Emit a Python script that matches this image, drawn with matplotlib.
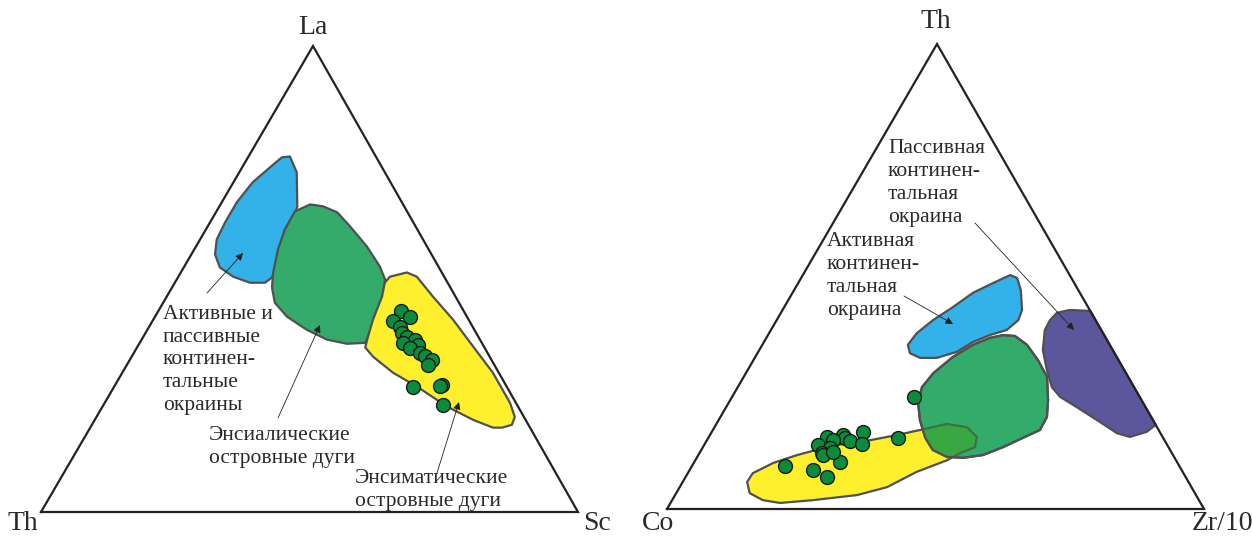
"""Two ternary discrimination diagrams: La-Th-Sc and Th-Co-Zr/10."""

import numpy as np
import matplotlib.pyplot as plt
from matplotlib.patches import Polygon

plt.rcParams['font.family'] = ['Liberation Serif', 'DejaVu Serif']

# ---- data: compositions in percent (top apex, right apex); left apex = rest ----
# left diagram: top = La, right = Sc, left = Th
la_blue = [(76.3, 7.7), (72.9, 10.7), (65.6, 14.5), (62.2, 15.4), (57.8, 16.2),
           (52.7, 17.3), (50.3, 17.5), (49.2, 16.8), (49.2, 14.0), (50.5, 10.2),
           (52.5, 6.7), (55.3, 4.4), (58.5, 3.1), (62.2, 2.8), (66.5, 2.8),
           (70.8, 3.6), (74.0, 5.2), (76.1, 6.3)]
la_green = [(66.0, 16.7), (65.6, 19.3), (64.3, 22.6), (61.3, 26.5), (57.0, 31.8),
            (52.7, 36.4), (49.9, 38.8), (45.6, 40.4), (41.3, 41.3), (36.3, 42.0),
            (36.1, 38.7), (37.0, 34.5), (39.1, 29.7), (41.9, 24.6), (44.9, 20.8),
            (48.2, 18.6), (51.4, 17.2), (56.3, 15.6), (60.6, 14.7), (64.5, 14.6)]
la_yellow = [(50.5, 39.4), (51.4, 42.1), (50.5, 44.4), (46.2, 49.6), (41.3, 55.8),
             (35.5, 62.5), (29.9, 69.0), (23.4, 75.5), (20.4, 77.9), (18.7, 78.2),
             (18.1, 76.7), (18.1, 75.0), (19.8, 70.4), (22.6, 64.2), (26.9, 56.4),
             (29.9, 50.4), (33.3, 45.0), (35.3, 42.5), (37.0, 42.0), (41.3, 40.9),
             (46.2, 40.1), (49.2, 39.1)]
la_samples = [(43.2, 45.2), (41.9, 47.5), (40.9, 44.8), (39.8, 46.7), (38.5, 47.7),
              (37.6, 49.1), (37.0, 50.9), (36.3, 49.0), (35.9, 52.0), (35.1, 50.9),
              (34.2, 53.3), (33.5, 54.5), (32.7, 56.3), (31.6, 56.1), (26.9, 55.6),
              (27.3, 60.8), (27.1, 60.6), (23.0, 63.2)]

# right diagram: top = Th, right = Zr/10, left = Co
th_blue = [(50.3, 38.6), (49.7, 40.2), (47.1, 42.2), (42.8, 44.6), (40.6, 45.0),
           (38.5, 43.9), (37.4, 41.3), (35.9, 38.9), (33.8, 37.0), (32.5, 33.9),
           (32.5, 30.8), (33.5, 28.4), (35.3, 27.1), (37.8, 27.5), (40.6, 29.1),
           (43.4, 31.4), (46.5, 33.6), (48.6, 36.3)]
th_green = [(37.4, 43.8), (37.2, 46.1), (35.3, 49.3), (32.0, 53.0), (28.4, 56.5),
            (23.4, 59.2), (19.8, 60.8), (17.0, 60.9), (15.3, 58.6), (13.3, 55.9),
            (11.6, 53.0), (11.0, 49.6), (11.2, 46.5), (12.7, 43.1), (15.3, 40.4),
            (19.1, 37.5), (22.8, 35.3), (26.2, 34.3), (29.2, 34.9), (32.7, 36.8),
            (35.3, 39.2), (36.8, 41.6)]
th_purple = [(42.2, 51.4), (42.8, 53.5), (42.6, 57.4), (18.1, 81.9), (16.6, 81.0),
             (15.5, 78.4), (16.3, 75.6), (19.1, 70.5), (21.9, 65.3), (24.1, 61.1),
             (26.2, 58.5), (29.9, 55.7), (34.2, 52.8), (38.5, 51.0), (40.6, 50.9)]
th_yellow = [(5.8, 12.0), (7.7, 12.1), (9.9, 14.8), (11.6, 18.4), (13.1, 22.5),
             (14.2, 26.4), (14.8, 30.4), (15.9, 34.8), (17.0, 38.6), (18.3, 42.9),
             (17.6, 47.0), (15.5, 49.9), (13.3, 50.7), (12.0, 48.5), (10.5, 46.9),
             (8.0, 42.5), (4.7, 38.6), (3.0, 33.9), (1.9, 26.2), (1.3, 20.4),
             (1.9, 16.9), (3.4, 13.7)]
th_samples = [(24.1, 33.9), (15.3, 35.3), (16.6, 28.2), (15.5, 22.0), (15.9, 24.8),
              (15.3, 25.5), (14.6, 26.7), (14.8, 23.5), (13.8, 21.2), (14.0, 29.3),
              (13.1, 23.8), (12.0, 22.8), (11.6, 23.2), (10.1, 27.1), (9.2, 17.4),
              (8.4, 23.0), (6.9, 26.3), (12.3, 24.7)]

# ---- layout (pixel canvas) ----
W, H = 1252, 536
left_tri = {'L': (41, 512), 'R': (578, 512), 'T': (313, 46)}
right_tri = {'L': (667, 509), 'R': (1204, 509), 'T': (937, 44)}

C_BLUE = '#33b1e9'
C_GREEN = '#33ab6b'
C_OVERLAP = '#3aa83e'
C_YELLOW = '#fff02e'
C_PURPLE = '#5c579d'
C_EDGE = '#505050'
C_DOT = '#0b8c3c'
C_TEXT = '#2a2a2a'


def to_xy(tri, comp):
    """Convert (top%, right%) compositions into canvas coordinates."""
    comp = np.asarray(comp, dtype=float) / 100.0
    t, r = comp[:, 0], comp[:, 1]
    l = 1.0 - t - r
    T, R, L = (np.array(tri[k], dtype=float) for k in ('T', 'R', 'L'))
    return np.outer(t, T) + np.outer(r, R) + np.outer(l, L)


def field(ax, tri, comp, color, z=2, edge=C_EDGE, alpha=1.0):
    patch = Polygon(to_xy(tri, comp), closed=True, facecolor=color,
                    edgecolor=edge, lw=1.6, alpha=alpha,
                    joinstyle='round', zorder=z)
    ax.add_patch(patch)
    return patch


def frame(ax, tri):
    pts = [tri['L'], tri['R'], tri['T'], tri['L']]
    xs, ys = zip(*pts)
    ax.plot(xs, ys, color='#222222', lw=1.6, solid_joinstyle='miter', zorder=5)


def arrow(ax, tail, tip):
    ax.annotate('', xy=tip, xytext=tail,
                arrowprops=dict(arrowstyle='-|>', color='#222222', lw=0.6,
                                mutation_scale=11, shrinkA=0, shrinkB=0),
                zorder=6)


fig = plt.figure(figsize=(W / 100, H / 100), dpi=100)
ax = fig.add_axes([0, 0, 1, 1])
ax.set_xlim(0, W)
ax.set_ylim(H, 0)
ax.axis('off')

# left diagram
field(ax, left_tri, la_blue, C_BLUE)
field(ax, left_tri, la_green, C_GREEN)
field(ax, left_tri, la_yellow, C_YELLOW)
frame(ax, left_tri)
p = to_xy(left_tri, la_samples)
ax.plot(p[:, 0], p[:, 1], 'o', ms=10, mfc=C_DOT, mec='#1a1a1a', mew=1.0,
        zorder=7)

# right diagram
field(ax, right_tri, th_yellow, C_YELLOW, z=2)
green = field(ax, right_tri, th_green, C_GREEN, z=3)
# yellow field seen through the green one
over = field(ax, right_tri, th_yellow, C_OVERLAP, z=3.5, edge='#3f6a3f',
             alpha=0.9)
over.set_clip_path(green)
field(ax, right_tri, th_green, 'none', z=3.6)
field(ax, right_tri, th_blue, C_BLUE, z=3)
field(ax, right_tri, th_purple, C_PURPLE, z=3)
frame(ax, right_tri)
p = to_xy(right_tri, th_samples)
ax.plot(p[:, 0], p[:, 1], 'o', ms=10, mfc=C_DOT, mec='#1a1a1a', mew=1.0,
        zorder=7)

# apex labels
corner_kw = dict(fontsize=20, color=C_TEXT, ha='center', va='center')
ax.text(313, 27, 'La', **corner_kw)
ax.text(23, 524, 'Th', **corner_kw)
ax.text(597, 523, 'Sc', **corner_kw)
ax.text(936, 22, 'Th', **corner_kw)
ax.text(658, 523, 'Co', **corner_kw)
ax.text(1222, 524, 'Zr/10', **corner_kw)

# field labels
lab_kw = dict(fontsize=15.5, color=C_TEXT, ha='left', va='center',
              linespacing=1.28)
ax.text(163, 360, 'Активные и\nпассивные\nконтинен-\nтальные\nокраины', **lab_kw)
ax.text(209, 447, 'Энсиалические\nостровные дуги', **lab_kw)
ax.text(355, 490, 'Энсиматические\nостровные дуги', **lab_kw)
ax.text(888, 183, 'Пассивная\nконтинен-\nтальная\nокраина', **lab_kw)
ax.text(827, 276, 'Активная\nконтинен-\nтальная\nокраина', **lab_kw)

arrow(ax, (207, 293), (243, 253))
arrow(ax, (278, 418), (320, 325))
arrow(ax, (437, 473), (459, 402))
arrow(ax, (975, 223), (1074, 330))
arrow(ax, (904, 296), (953, 324))

fig.savefig('out.png', dpi=100)
